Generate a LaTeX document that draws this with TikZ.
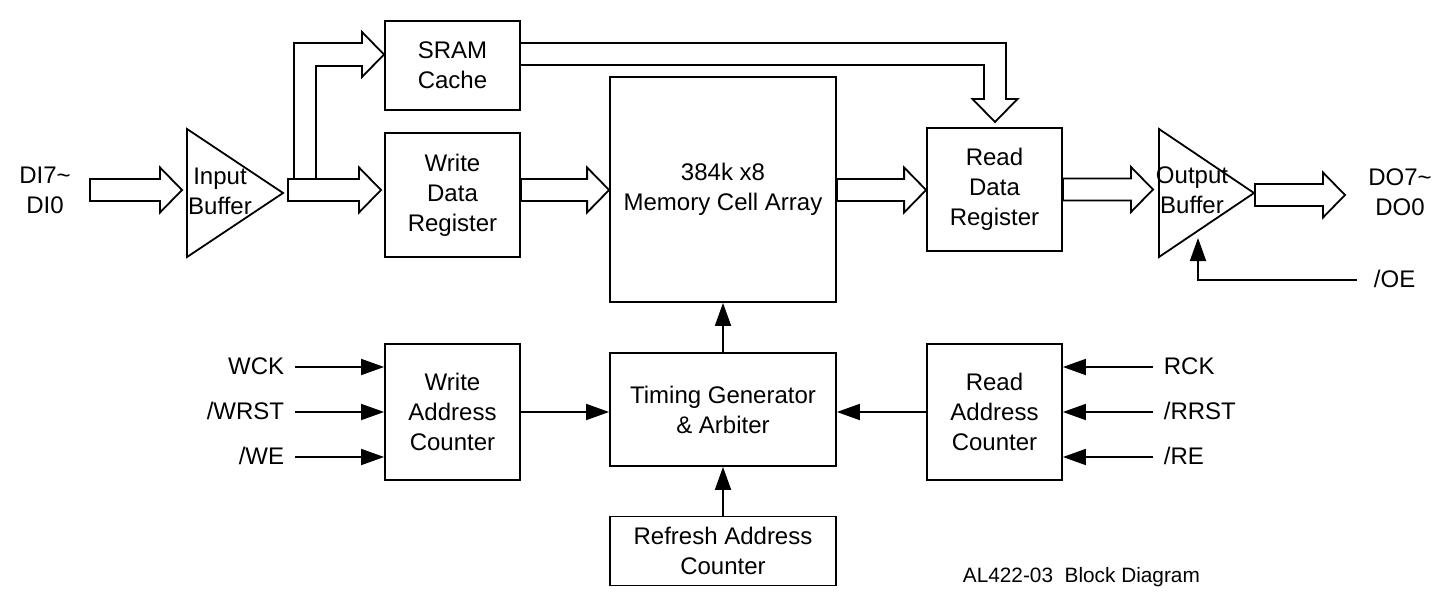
\documentclass[tikz,border=0pt]{standalone}
\usepackage{fontspec}
\setmainfont{Liberation Sans}
\usetikzlibrary{arrows.meta,calc}
% rightward fat bus arrow: #1 start point, #2 tip point, #3 y (px)
\newcommand\fatR[3]{\draw[fat] let \p1=(#1), \p2=(#2), \p3=(0,#3) in
  (\x1,\y3+5.5pt) -- (\x2-11pt,\y3+5.5pt) -- (\x2-11pt,\y3+11.25pt) -- (\x2,\y3)
  -- (\x2-11pt,\y3-11.25pt) -- (\x2-11pt,\y3-5.5pt) -- (\x1,\y3-5.5pt) -- cycle;}
\begin{document}
\begin{tikzpicture}[x=0.5pt,y=-0.5pt,line width=0.9pt,
  box/.style={draw,align=center,font=\fontsize{12}{15}\selectfont,inner sep=0pt},
  lbl/.style={font=\fontsize{12}{15}\selectfont,inner sep=0pt,align=center},
  fat/.style={line join=miter},
  sig/.style={-{Triangle[length=11.5pt,width=8pt]}}]
\useasboundingbox (0,0) rectangle (1452,610);

% blocks
\node[box,minimum width=67.5pt,minimum height=44.5pt] (sram) at (452.5,65.5) {SRAM\\Cache};
\node[box,minimum width=67.5pt,minimum height=62pt] (wdr) at (452.5,195) {Write\\Data\\Register};
\node[box,minimum width=113pt,minimum height=112.5pt] (mem) at (723,189.5) {384k x8\\Memory Cell Array};
\node[box,minimum width=67.5pt,minimum height=61.5pt] (rdr) at (994.5,189.5) {Read\\Data\\Register};
\node[box,minimum width=67.5pt,minimum height=68pt] (wac) at (452.5,412) {Write\\Address\\Counter};
\node[box,minimum width=113pt,minimum height=56.5pt] (tg) at (723,409.5) {Timing Generator\\\& Arbiter};
\node[box,minimum width=67.5pt,minimum height=68pt] (rac) at (994.5,412) {Read\\Address\\Counter};
\node[box,minimum width=113pt,minimum height=34.5pt] (rfc) at (723,551) {Refresh Address\\Counter};

% buffers
\draw (187,129) -- (283,193) -- (187,257) -- cycle;
\node[lbl] (ib) at (220,191) {Input\\Buffer};
\draw (1159,129) -- (1254,193) -- (1159,257) -- cycle;
\node[lbl] (ob) at (1192,190) {Output\\Buffer};

% external labels
\node[lbl] (di) at (45,190) {DI7\textasciitilde\\DI0};
\node[lbl] (do) at (1400,192.5) {DO7\textasciitilde\\DO0};
\node[lbl,anchor=west] (oe) at (1373,279) {/OE};
\node[lbl,anchor=east] (wck) at (285,366) {WCK};
\node[lbl,anchor=east] (wrst) at (285,411) {/WRST};
\node[lbl,anchor=east] (we) at (285,456) {/WE};
\node[lbl,anchor=west] (rck) at (1163,366) {RCK};
\node[lbl,anchor=west] (rrst) at (1163,411) {/RRST};
\node[lbl,anchor=west] (re) at (1163,456) {/RE};
\node[font=\fontsize{10.4}{12}\selectfont,anchor=west,inner sep=0pt] (cap) at (962,577) {AL422-03\ \ Block Diagram};

% coordinates for free ends
\coordinate (dis) at (90,190);
\coordinate (die) at (182,190);
\coordinate (ibo) at (288,190);
\coordinate (wdin) at (381,190);
\coordinate (obin) at (1153,189.5);
\coordinate (obo) at (1255,195);
\coordinate (dot) at (1345,195);
\coordinate (wcks) at (295,367);
\coordinate (wrsts) at (295,412);
\coordinate (wes) at (295,457);
\coordinate (rcks) at (1153,367);
\coordinate (rrsts) at (1153,412);
\coordinate (res) at (1153,457);
\coordinate (oes) at (1357,280);
\coordinate (oet) at (1198,238);

% fat bus arrows
\fatR{dis}{die}{190}
\fatR{ibo}{wdin}{190}
\fatR{wdr.east}{mem.west}{190}
\fatR{mem.east}{rdr.west}{190}
\fatR{rdr.east}{obin}{189.5}
\fatR{obo}{dot}{195}
% branch to SRAM cache
\draw[fat] (294,179) -- (294,43) -- (362,43) -- (362,32) -- (384,54.5) -- (362,77) -- (362,66) -- (316,66) -- (316,179);
% SRAM cache to read data register
\draw[fat] (sram.east |- 0,43) -- (1006,43) -- (1006,99) -- (1017.5,99) -- (995,122) -- (972.5,99) -- (984,99) -- (984,65) -- (sram.east |- 0,65);

% control signals
\draw[sig] (wcks) -- (wcks -| wac.west);
\draw[sig] (wrsts) -- (wrsts -| wac.west);
\draw[sig] (wes) -- (wes -| wac.west);
\draw[sig] (rcks) -- (rcks -| rac.east);
\draw[sig] (rrsts) -- (rrsts -| rac.east);
\draw[sig] (res) -- (res -| rac.east);
\draw[sig] (wac.east) -- (wac.east -| tg.west);
\draw[sig] (rac.west) -- (rac.west -| tg.east);
\draw[sig] (tg.north) -- (mem.south);
\draw[sig] (rfc.north) -- (tg.south);
\draw[sig] (oes) -| (oet);
\end{tikzpicture}
\end{document}
